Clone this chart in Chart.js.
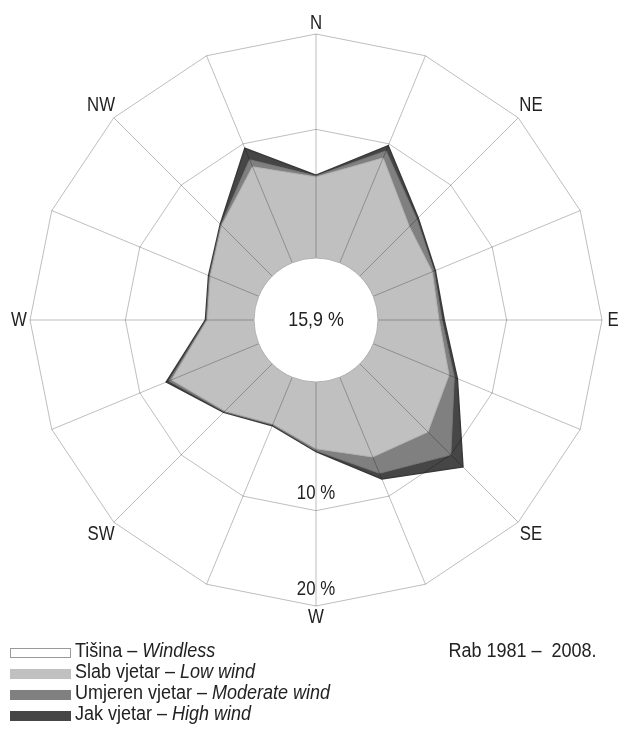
<!DOCTYPE html>
<html>
<head>
<meta charset="utf-8">
<script src="https://cdn.jsdelivr.net/npm/chart.js@4.4.1/dist/chart.umd.min.js"></script>
<style>
  html, body { margin: 0; padding: 0; background: #fff; overflow: hidden; }
  #wrap { position: relative; width: 620px; height: 734px; }
  #rose { position: absolute; left: 0; top: 0; }
  .legend { position: absolute; left: 10px; top: 640px; font-family: "Liberation Sans", Arial, sans-serif; font-size: 20px; color: #222; }
  .legend div { height: 21px; line-height: 21px; white-space: nowrap; }
  .legend span.sw { display: inline-block; width: 61px; height: 10px; margin-right: 4px; vertical-align: -1px; box-sizing: border-box; }
  .legend span.tx { display: inline-block; transform: scaleX(0.9); transform-origin: 0 50%; }
  .note { position: absolute; right: 23px; top: 640px; line-height: 21px; font-family: "Liberation Sans", Arial, sans-serif; font-size: 20px; color: #222; transform: scaleX(0.9); transform-origin: 100% 50%; white-space: nowrap; }
</style>
</head>
<body>
<div id="wrap">
  <canvas id="rose" width="620" height="734"></canvas>
  <div class="legend" id="legend"></div>
  <div class="note">Rab 1981 &ndash;&nbsp; 2008.</div>
</div>
<script>
// 16 wind directions, values in % of time (stacked: low + moderate + high)
const directions = ['N', 'NNE', 'NE', 'ENE', 'E', 'ESE', 'SE', 'SSE', 'S', 'SSW', 'SW', 'WSW', 'W', 'WNW', 'NW', 'NNW'];
const directionLabels = ['N', '', 'NE', '', 'E', '', 'SE', '', 'W', '', 'SW', '', 'W', '', 'NW', ''];
const lowWind      = [5.0, 8.4, 3.85, 3.2, 2.9, 5.1, 6.6, 5.55, 3.5, 1.8, 3.5, 6.4, 1.4, 2.0, 4.0, 7.4];
const moderateWind = [0.1, 0.8, 1.1, 0.2, 0.3, 0.6, 3.4, 1.85, 0.2, 0.1, 0.1, 0.3, 0.1, 0.1, 0.1, 0.8];
const highWind     = [0.1, 0.6, 0.2, 0.15, 0.25, 0.35, 1.8, 0.65, 0.1, 0.1, 0.1, 0.3, 0.1, 0.1, 0.1, 1.3];
const calmText = '15,9 %';
const ringTicks = [10, 20];
const ringLabels = ['10 %', '20 %'];

const legendItems = [
    { label: 'Tišina', en: 'Windless', color: '#ffffff', border: '#9a9a9a' },
    { label: 'Slab vjetar', en: 'Low wind', color: '#c0c0c0', border: '#c0c0c0' },
    { label: 'Umjeren vjetar', en: 'Moderate wind', color: '#808080', border: '#808080' },
    { label: 'Jak vjetar', en: 'High wind', color: '#464646', border: '#464646' }
];

const font = '"Liberation Sans", Arial, sans-serif';
const gridColor = 'rgba(0, 0, 0, 0.26)';
const holeRadius = 62;

// cumulative values for the stacked polygons
const lowModerate = lowWind.map((v, i) => v + moderateWind[i]);
const total = lowModerate.map((v, i) => v + highWind[i]);

// legend
const legendEl = document.getElementById('legend');
legendItems.forEach(item => {
    const row = document.createElement('div');
    row.innerHTML = '<span class="sw" style="background:' + item.color + ';border:1px solid ' + item.border + '"></span>' +
        '<span class="tx">' + item.label + ' &ndash; <i>' + item.en + '</i></span>';
    legendEl.appendChild(row);
});

// narrow-looking text (condensed horizontally)
function narrowText(ctx, text, x, y, size, squeeze) {
    ctx.save();
    ctx.translate(x, y);
    ctx.scale(squeeze, 1);
    ctx.font = size + 'px ' + font;
    ctx.fillText(text, 0, 0);
    ctx.restore();
}

// labels, calm hole and ring values drawn on top
const overlay = {
    id: 'overlay',
    afterDraw(chart) {
        const s = chart.scales.r;
        const ctx = chart.ctx;
        ctx.save();

        // windless hole
        ctx.beginPath();
        ctx.arc(s.xCenter, s.yCenter, holeRadius, 0, Math.PI * 2);
        ctx.fillStyle = '#ffffff';
        ctx.fill();
        ctx.lineWidth = 1;
        ctx.strokeStyle = '#b0b0b0';
        ctx.stroke();

        ctx.fillStyle = '#222';
        ctx.textAlign = 'center';
        ctx.textBaseline = 'middle';
        narrowText(ctx, calmText, s.xCenter, s.yCenter, 21, 0.85);

        // direction labels
        directionLabels.forEach((lbl, i) => {
            if (!lbl) return;
            const a = s.getIndexAngle(i);
            const d = 297 + 7 * Math.abs(Math.sin(2 * a));
            const p = s.getPointPosition(i, d);
            narrowText(ctx, lbl, p.x, p.y, 20, 0.84);
        });

        // ring values along the south spoke
        ringTicks.forEach((v, k) => {
            const p = s.getPointPositionForValue(8, v);
            narrowText(ctx, ringLabels[k], p.x, p.y - 17, 20, 0.84);
        });
        ctx.restore();
    }
};

new Chart(document.getElementById('rose'), {
    type: 'radar',
    data: {
        labels: directions,
        datasets: [
            {
                label: 'Slab vjetar – Low wind',
                data: lowWind,
                backgroundColor: '#c0c0c0',
                borderColor: '#b4b4b4',
                borderWidth: 1,
                fill: 'start'
            },
            {
                label: 'Umjeren vjetar – Moderate wind',
                data: lowModerate,
                backgroundColor: '#808080',
                borderColor: '#787878',
                borderWidth: 1,
                fill: 'start'
            },
            {
                label: 'Jak vjetar – High wind',
                data: total,
                backgroundColor: '#464646',
                borderColor: '#3a3a3a',
                borderWidth: 1.5,
                fill: 'start'
            }
        ]
    },
    options: {
        responsive: false,
        animation: false,
        layout: { padding: { left: 30, right: 18, top: 34, bottom: 128 } },
        elements: {
            point: { radius: 0, hoverRadius: 0 },
            line: { tension: 0 }
        },
        plugins: {
            legend: { display: false },
            tooltip: { enabled: false }
        },
        scales: {
            r: {
                min: -10,
                max: 20,
                afterBuildTicks: (scale) => {
                    scale.ticks = ringTicks.map(v => ({ value: v }));
                },
                ticks: { display: false },
                grid: { color: gridColor, lineWidth: 1, z: 1 },
                angleLines: { color: gridColor, lineWidth: 1 },
                pointLabels: { display: false }
            }
        }
    },
    plugins: [overlay]
});
</script>
</body>
</html>
